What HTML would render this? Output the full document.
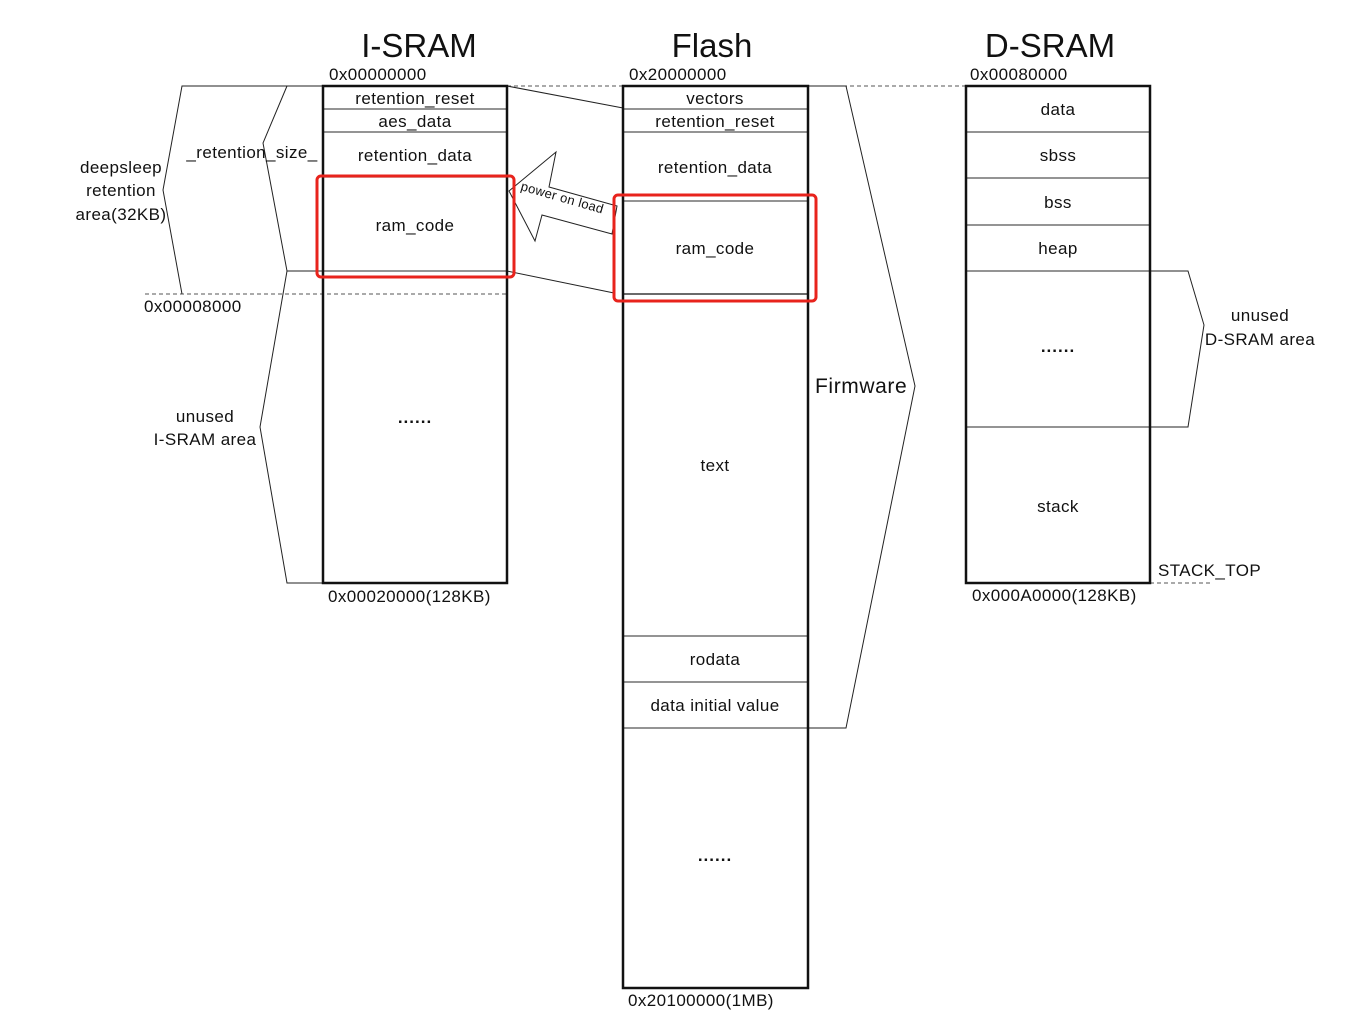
<!DOCTYPE html>
<html><head><meta charset="utf-8"><style>
html,body{margin:0;padding:0;background:#fff;}
svg{display:block;}
text{font-family:"Liberation Sans",sans-serif;font-size:17px;letter-spacing:0.4px;fill:#111;}
.t{font-size:33px;letter-spacing:0;}
.c{text-anchor:middle;}
.d{font-weight:bold;letter-spacing:1px;}
</style></head><body>
<svg width="1358" height="1033" viewBox="0 0 1358 1033" xmlns="http://www.w3.org/2000/svg">
<text class="t c" x="419" y="57">I-SRAM</text>
<text class="t c" x="712" y="57">Flash</text>
<text class="t c" x="1050" y="57">D-SRAM</text>
<text x="329" y="80">0x00000000</text>
<text x="629" y="80">0x20000000</text>
<text x="970" y="80">0x00080000</text>

<g stroke="#555" stroke-width="1" stroke-dasharray="4,3" fill="none">
<line x1="507" y1="86" x2="623" y2="86"/>
<line x1="808" y1="86" x2="966" y2="86"/>
<line x1="145" y1="294" x2="507" y2="294"/>
<line x1="1150" y1="583" x2="1210" y2="583"/>
</g>

<g stroke="#222" stroke-width="1" fill="none">
<polyline points="323,86 182,86 163,190 182,294"/>
<polyline points="287,86 263,143 287,271 323,271"/>
<polyline points="287,271 260,427 287,583 323,583"/>
<polyline points="808,86 846,86 915,386 846,728 808,728"/>
<polyline points="1150,271 1188,271 1204,325 1188,427 1150,427"/>
<line x1="507" y1="86" x2="623" y2="108"/>
<line x1="507" y1="271" x2="614" y2="293"/>
</g>

<polygon points="509,191 556,152 549,187 617,206 612,234 542,215 535,241" fill="#fff" stroke="#222" stroke-width="1"/>
<text transform="translate(520,190) rotate(16)" style="font-size:13px;letter-spacing:0.3px">power on load</text>

<g stroke="#555" stroke-width="1.3">
<line x1="323" y1="109" x2="507" y2="109"/>
<line x1="323" y1="132" x2="507" y2="132"/>
<line x1="323" y1="177" x2="507" y2="177"/>
<line x1="323" y1="271" x2="507" y2="271"/>
</g>
<rect x="323" y="86" width="184" height="497" fill="none" stroke="#111" stroke-width="2.5"/>
<text class="c" x="415" y="104">retention_reset</text>
<text class="c" x="415" y="127">aes_data</text>
<text class="c" x="415" y="161">retention_data</text>
<text class="c" x="415" y="231">ram_code</text>
<text class="c d" x="415" y="423">......</text>
<rect x="317" y="176" width="197" height="101" rx="4" fill="none" stroke="#e8231c" stroke-width="3"/>

<g stroke="#555" stroke-width="1.3">
<line x1="623" y1="109" x2="808" y2="109"/>
<line x1="623" y1="132" x2="808" y2="132"/>
<line x1="623" y1="201" x2="808" y2="201"/>
<line x1="623" y1="294" x2="808" y2="294" stroke="#111"/>
<line x1="623" y1="636" x2="808" y2="636"/>
<line x1="623" y1="682" x2="808" y2="682"/>
<line x1="623" y1="728" x2="808" y2="728"/>
</g>
<rect x="623" y="86" width="185" height="902" fill="none" stroke="#111" stroke-width="2.5"/>
<text class="c" x="715" y="104">vectors</text>
<text class="c" x="715" y="127">retention_reset</text>
<text class="c" x="715" y="173">retention_data</text>
<text class="c" x="715" y="254">ram_code</text>
<text class="c" x="715" y="471">text</text>
<text class="c" x="715" y="665">rodata</text>
<text class="c" x="715" y="711">data initial value</text>
<text class="c d" x="715" y="861">......</text>
<rect x="614" y="195" width="202" height="106" rx="4" fill="none" stroke="#e8231c" stroke-width="3"/>
<text x="815" y="393" style="font-size:21px;letter-spacing:0.6px">Firmware</text>
<text x="628" y="1006">0x20100000(1MB)</text>

<g stroke="#555" stroke-width="1.3">
<line x1="966" y1="132" x2="1150" y2="132"/>
<line x1="966" y1="178" x2="1150" y2="178"/>
<line x1="966" y1="225" x2="1150" y2="225"/>
<line x1="966" y1="271" x2="1150" y2="271"/>
<line x1="966" y1="427" x2="1150" y2="427"/>
</g>
<rect x="966" y="86" width="184" height="497" fill="none" stroke="#111" stroke-width="2.5"/>
<text class="c" x="1058" y="115">data</text>
<text class="c" x="1058" y="161">sbss</text>
<text class="c" x="1058" y="208">bss</text>
<text class="c" x="1058" y="254">heap</text>
<text class="c d" x="1058" y="352">......</text>
<text class="c" x="1058" y="512">stack</text>
<text x="1158" y="576">STACK_TOP</text>
<text x="972" y="601">0x000A0000(128KB)</text>
<text class="c" x="1260" y="321">unused</text>
<text class="c" x="1260" y="345">D-SRAM area</text>

<text class="c" x="121" y="173">deepsleep</text>
<text class="c" x="121" y="196">retention</text>
<text class="c" x="121" y="220">area(32KB)</text>
<text class="c" x="252" y="158">_retention_size_</text>
<text x="144" y="312">0x00008000</text>
<text class="c" x="205" y="422">unused</text>
<text class="c" x="205" y="445">I-SRAM area</text>
<text x="328" y="602">0x00020000(128KB)</text>
</svg>
</body></html>
